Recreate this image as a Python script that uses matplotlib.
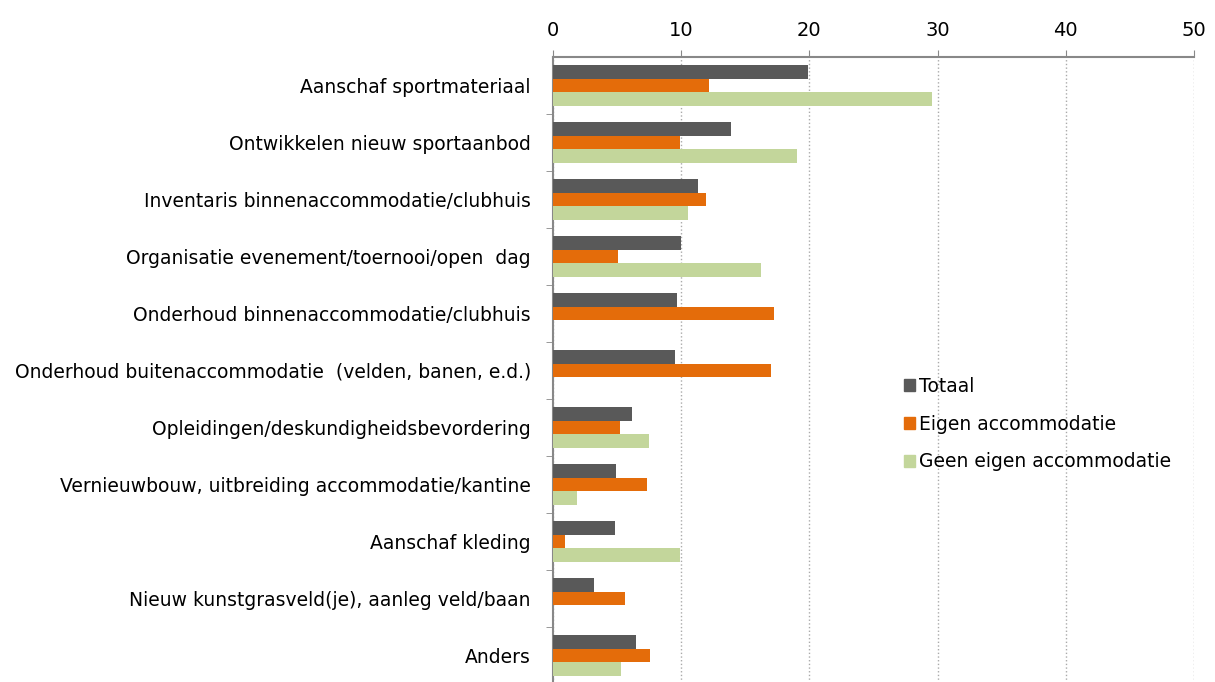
import numpy as np
import matplotlib.pyplot as plt
from matplotlib.patches import Patch

categories = [
    'Aanschaf sportmateriaal',
    'Ontwikkelen nieuw sportaanbod',
    'Inventaris binnenaccommodatie/clubhuis',
    'Organisatie evenement/toernooi/open  dag',
    'Onderhoud binnenaccommodatie/clubhuis',
    'Onderhoud buitenaccommodatie  (velden, banen, e.d.)',
    'Opleidingen/deskundigheidsbevordering',
    'Vernieuwbouw, uitbreiding accommodatie/kantine',
    'Aanschaf kleding',
    'Nieuw kunstgrasveld(je), aanleg veld/baan',
    'Anders',
]
totaal = [19.9, 13.9, 11.3, 10.0, 9.7, 9.5, 6.2, 4.9, 4.8, 3.2, 6.5]
eigen = [12.2, 9.9, 11.9, 5.1, 17.2, 17.0, 5.2, 7.3, 0.9, 5.6, 7.6]
geen = [29.6, 19.0, 10.5, 16.2, 0, 0, 7.5, 1.9, 9.9, 0, 5.3]
series = ['Totaal', 'Eigen accommodatie', 'Geen eigen accommodatie']
colors = ['#595959', '#E46C0A', '#C3D69B']

plt.rcParams['font.family'] = 'DejaVu Sans'

fig = plt.figure(figsize=(12.15, 6.82), dpi=100)
ax = fig.add_axes([553 / 1215, -2 / 682, 641 / 1215, 627 / 682])

pos = np.arange(len(categories)) + 0.5
h = 0.245
for k, vals in enumerate([totaal, eigen, geen]):
    ax.barh(pos + (k - 1) * h, vals, height=h, color=colors[k], zorder=3)

ax.set_xlim(0, 50)
ax.set_ylim(len(categories), 0)
ax.xaxis.tick_top()
ax.set_xticks([0, 10, 20, 30, 40, 50])
ax.tick_params(axis='x', colors='#888888', labelcolor='black', labelsize=14,
               length=5, pad=7)
ax.grid(axis='x', color='#aaaaaa', linestyle=':', linewidth=1, zorder=0)

ax.set_yticks(pos)
ax.set_yticklabels(categories, fontsize=13.5)
ax.set_yticks(np.arange(1, len(categories)), minor=True)
ax.tick_params(axis='y', which='major', length=0, pad=16)
ax.tick_params(axis='y', which='minor', length=5, color='#888888')

for s in ['right', 'bottom']:
    ax.spines[s].set_visible(False)
for s in ['left', 'top']:
    ax.spines[s].set_color('#888888')
    ax.spines[s].set_linewidth(1.5)

handles = [Patch(color=c, label=l) for c, l in zip(colors, series)]
fig.legend(handles=handles, loc='upper left', bbox_to_anchor=(887 / 1215, 1 - 360 / 682),
           frameon=False, fontsize=13.5, handlelength=0.6, handleheight=0.6,
           handletextpad=0.2, labelspacing=1.0)

fig.savefig('out.png', dpi=100)
